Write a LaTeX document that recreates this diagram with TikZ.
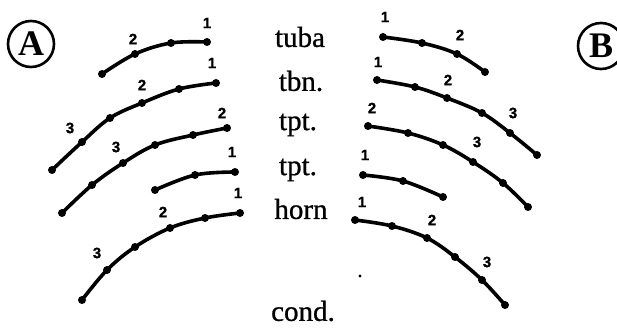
\documentclass[tikz,border=0pt]{standalone}
\usepackage{fontspec}
\setmainfont{Liberation Serif}
\newfontfamily\instrfont[FakeBold=0.8]{Liberation Serif}
\newfontfamily\numfont[FakeBold=1.2]{Liberation Sans}
\begin{document}
\begin{tikzpicture}[x=1pt,y=-1pt,
  curve/.style={line width=3.6pt,line cap=round,line join=round},
  dot/.style={circle,fill=black,inner sep=0pt,minimum size=8pt},
  num/.style={font=\numfont\bfseries\fontsize{15}{15}\selectfont,inner sep=0pt},
  instr/.style={font=\instrfont\fontsize{29}{30}\selectfont,inner sep=0pt},
  badge/.style={circle,draw,line width=2.6pt,minimum size=46pt,inner sep=0pt,font=\bfseries\fontsize{36}{36}\selectfont}]
\useasboundingbox (0,0) rectangle (617,328);

% instrument labels
\node[instr] (tuba) at (300,37) {tuba};
\node[instr] (tbn) at (301,81) {tbn.};
\node[instr] (tpta) at (298,125) {tpt.};
\node[instr] (tptb) at (298,170) {tpt.};
\node[instr] (horn) at (301,209) {horn};
\node[instr] (cond) at (303,311) {cond.};

% badges
\node[badge] (A) at (31,44) {A};
\node[badge] (B) at (601,46) {B};

% ---------- left side (A) ----------
\foreach \n/\p in {a1/{207,42},a2/{171,43},a3/{135,54},a4/{102,74}}
  \coordinate (L1\n) at (\p);
\draw[curve] plot[smooth,tension=0.6] coordinates {(L1a1)(L1a2)(L1a3)(L1a4)};
\foreach \n in {a1,a2,a3,a4} \node[dot] at (L1\n) {};
\node[num] (l1n1) at (207,23) {1};
\node[num] (l1n2) at (133,39) {2};

\foreach \n/\p in {a1/{216,83},a2/{179,89},a3/{142,103},a4/{110,118},a5/{82,142},a6/{52,170}}
  \coordinate (L2\n) at (\p);
\draw[curve] plot[smooth,tension=0.6] coordinates {(L2a1)(L2a2)(L2a3)(L2a4)(L2a5)(L2a6)};
\foreach \n in {a1,a2,a3,a4,a5,a6} \node[dot] at (L2\n) {};
\node[num] (l2n1) at (212,63) {1};
\node[num] (l2n2) at (142,85) {2};
\node[num] (l2n3) at (70,128) {3};

\foreach \n/\p in {a1/{227,128},a2/{193,135},a3/{155,145},a4/{123,163},a5/{92,185},a6/{62,213}}
  \coordinate (L3\n) at (\p);
\draw[curve] plot[smooth,tension=0.6] coordinates {(L3a1)(L3a2)(L3a3)(L3a4)(L3a5)(L3a6)};
\foreach \n in {a1,a2,a3,a4,a5,a6} \node[dot] at (L3\n) {};
\node[num] (l3n2) at (222,113) {2};
\node[num] (l3n3) at (116,147) {3};

\foreach \n/\p in {a1/{235,172},a2/{195,175},a3/{155,190}}
  \coordinate (L4\n) at (\p);
\draw[curve] plot[smooth,tension=0.6] coordinates {(L4a1)(L4a2)(L4a3)};
\foreach \n in {a1,a2,a3} \node[dot] at (L4\n) {};
\node[num] (l4n1) at (232,152) {1};

\foreach \n/\p in {a1/{240,213},a2/{205,218},a3/{170,228},a4/{135,247},a5/{107,270},a6/{82,300}}
  \coordinate (L5\n) at (\p);
\draw[curve] plot[smooth,tension=0.6] coordinates {(L5a1)(L5a2)(L5a3)(L5a4)(L5a5)(L5a6)};
\foreach \n in {a1,a2,a3,a4,a5,a6} \node[dot] at (L5\n) {};
\node[num] (l5n1) at (238,193) {1};
\node[num] (l5n2) at (163,212) {2};
\node[num] (l5n3) at (97,253) {3};

% ---------- right side (B) ----------
\foreach \n/\p in {a1/{383,37},a2/{422,43},a3/{457,54},a4/{485,72}}
  \coordinate (R1\n) at (\p);
\draw[curve] plot[smooth,tension=0.6] coordinates {(R1a1)(R1a2)(R1a3)(R1a4)};
\foreach \n in {a1,a2,a3,a4} \node[dot] at (R1\n) {};
\node[num] (r1n1) at (385,17) {1};
\node[num] (r1n2) at (460,35) {2};

\foreach \n/\p in {a1/{377,80},a2/{415,87},a3/{447,98},a4/{482,113},a5/{510,133},a6/{537,155}}
  \coordinate (R2\n) at (\p);
\draw[curve] plot[smooth,tension=0.6] coordinates {(R2a1)(R2a2)(R2a3)(R2a4)(R2a5)(R2a6)};
\foreach \n in {a1,a2,a3,a4,a5,a6} \node[dot] at (R2\n) {};
\node[num] (r2n1) at (378,62) {1};
\node[num] (r2n2) at (448,80) {2};
\node[num] (r2n3) at (513,113) {3};

\foreach \n/\p in {a1/{368,126},a2/{408,133},a3/{443,145},a4/{473,162},a5/{503,183},a6/{528,207}}
  \coordinate (R3\n) at (\p);
\draw[curve] plot[smooth,tension=0.6] coordinates {(R3a1)(R3a2)(R3a3)(R3a4)(R3a5)(R3a6)};
\foreach \n in {a1,a2,a3,a4,a5,a6} \node[dot] at (R3\n) {};
\node[num] (r3n2) at (372,108) {2};
\node[num] (r3n3) at (477,142) {3};

\foreach \n/\p in {a1/{363,175},a2/{403,181},a3/{443,197}}
  \coordinate (R4\n) at (\p);
\draw[curve] plot[smooth,tension=0.6] coordinates {(R4a1)(R4a2)(R4a3)};
\foreach \n in {a1,a2,a3} \node[dot] at (R4\n) {};
\node[num] (r4n1) at (365,155) {1};

\foreach \n/\p in {a1/{355,220},a2/{392,226},a3/{427,238},a4/{455,257},a5/{482,280},a6/{505,305}}
  \coordinate (R5\n) at (\p);
\draw[curve] plot[smooth,tension=0.6] coordinates {(R5a1)(R5a2)(R5a3)(R5a4)(R5a5)(R5a6)};
\foreach \n in {a1,a2,a3,a4,a5,a6} \node[dot] at (R5\n) {};
\node[num] (r5n1) at (362,202) {1};
\node[num] (r5n2) at (432,220) {2};
\node[num] (r5n3) at (487,262) {3};

% stray dot
\fill (360,276) circle (1.6pt);
\end{tikzpicture}
\end{document}
